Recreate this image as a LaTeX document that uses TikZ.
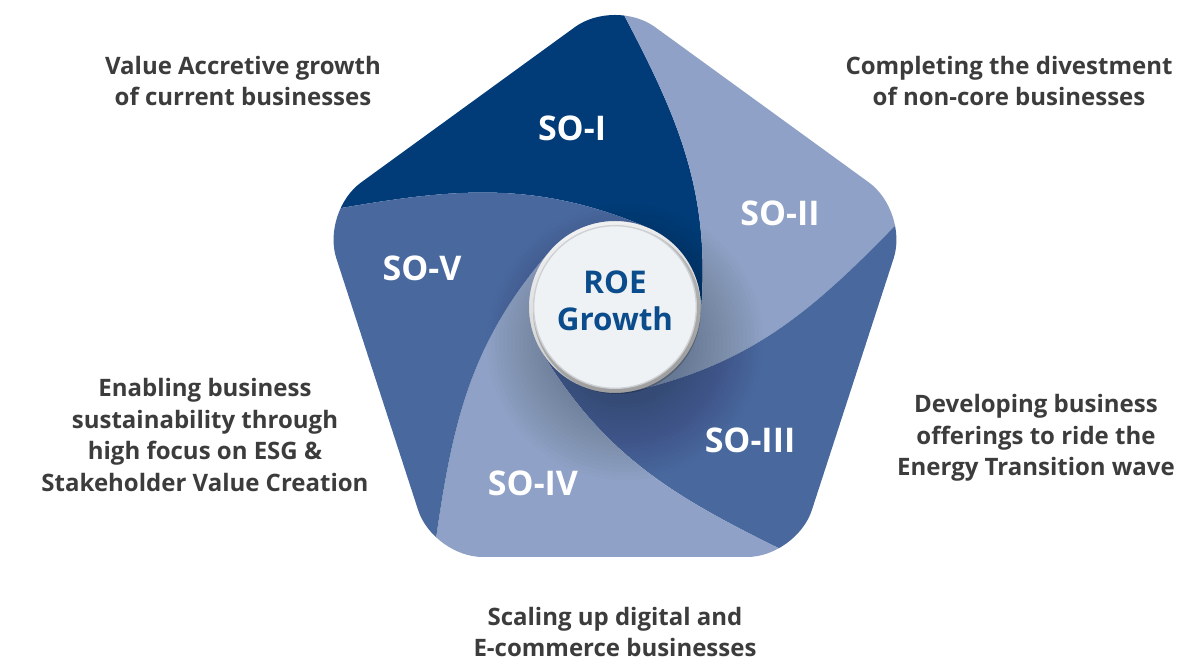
\documentclass[tikz,border=0pt]{standalone}
\usepackage{fontspec}
\setmainfont{Open Sans}
\usetikzlibrary{positioning}
\definecolor{soNavy}{HTML}{023C78}
\definecolor{soLight}{HTML}{8FA1C6}
\definecolor{soMid}{HTML}{49699E}
\definecolor{txtGray}{HTML}{3C3C3C}
\definecolor{roeBlue}{HTML}{0B4C8C}
\definecolor{hubFill}{HTML}{EFF2F4}
\definecolor{hubRim}{HTML}{CDD1D5}

\begin{document}
\begin{tikzpicture}[x=0.75pt, y=0.75pt,
    goal/.style={text=txtGray, font=\fontsize{18}{23.6}\selectfont\bfseries, align=center},
    tag/.style={text=white, font=\fontsize{25.5}{30}\selectfont\bfseries},
    hub/.style={circle, fill=hubFill, draw=hubRim, line width=1pt, minimum size=122pt},
    roe/.style={text=roeBlue, font=\fontsize{23.5}{27.8}\selectfont\bfseries, align=center}
]
    \useasboundingbox (-615,-356) rectangle (574,307);
    \def\R{309}
    \def\r{86}

    % Pentagon swirl
    \begin{scope}
        \clip[rounded corners=37pt] (90:\R) -- (162:\R) -- (234:\R) -- (306:\R) -- (18:\R) -- cycle;
        \foreach \b/\col in {162/soNavy, 90/soLight, 18/soMid, -54/soLight, -126/soMid}
            \fill[\col] (\b:\R) to[out=\b-152, in=\b-5] (\b-95:\r)
                arc[start angle=\b-95, end angle=\b-167, radius=\r]
                to[out=\b-77, in=\b-224] (\b-72:\R)
                -- ({\b-72}:{1.6*\R}) -- ({\b}:{1.6*\R}) -- cycle;
        % soft shadow round the hub
        \foreach \k in {0,...,19}
            \fill[black, opacity=0.011] (10,-35) circle ({62+4*\k});
    \end{scope}

    % Hub
    \fill[black, opacity=0.2] (2,-3) circle (84);
    \node[hub] (hub) at (0,0) {};
    \node[roe] (roe) at ([yshift=4.5pt]hub.center) {ROE\\Growth};

    % Blade tags
    \node[tag] (so1) at (-43,179) {SO-I};
    \node[tag] (so2) at (165,94) {SO-II};
    \node[tag] (so3) at (135,-133) {SO-III};
    \node[tag] (so4) at (-82,-176) {SO-IV};
    \node[tag] (so5) at (-193,39) {SO-V};

    % Objectives
    \node[goal] (g1) at (-372,226) {Value Accretive growth\\of current businesses};
    \node[goal] (g2) at (394,226) {Completing the divestment\\of non-core businesses};
    \node[goal] (g3) at (421,-131) {Developing business\\offerings to ride the\\Energy Transition wave};
    \node[goal] (g4) at (0,-325) {Scaling up digital and\\E-commerce businesses};
    \node[goal] (g5) at (-410,-128) {Enabling business\\sustainability through\\high focus on ESG \&\\Stakeholder Value Creation};
\end{tikzpicture}
\end{document}
